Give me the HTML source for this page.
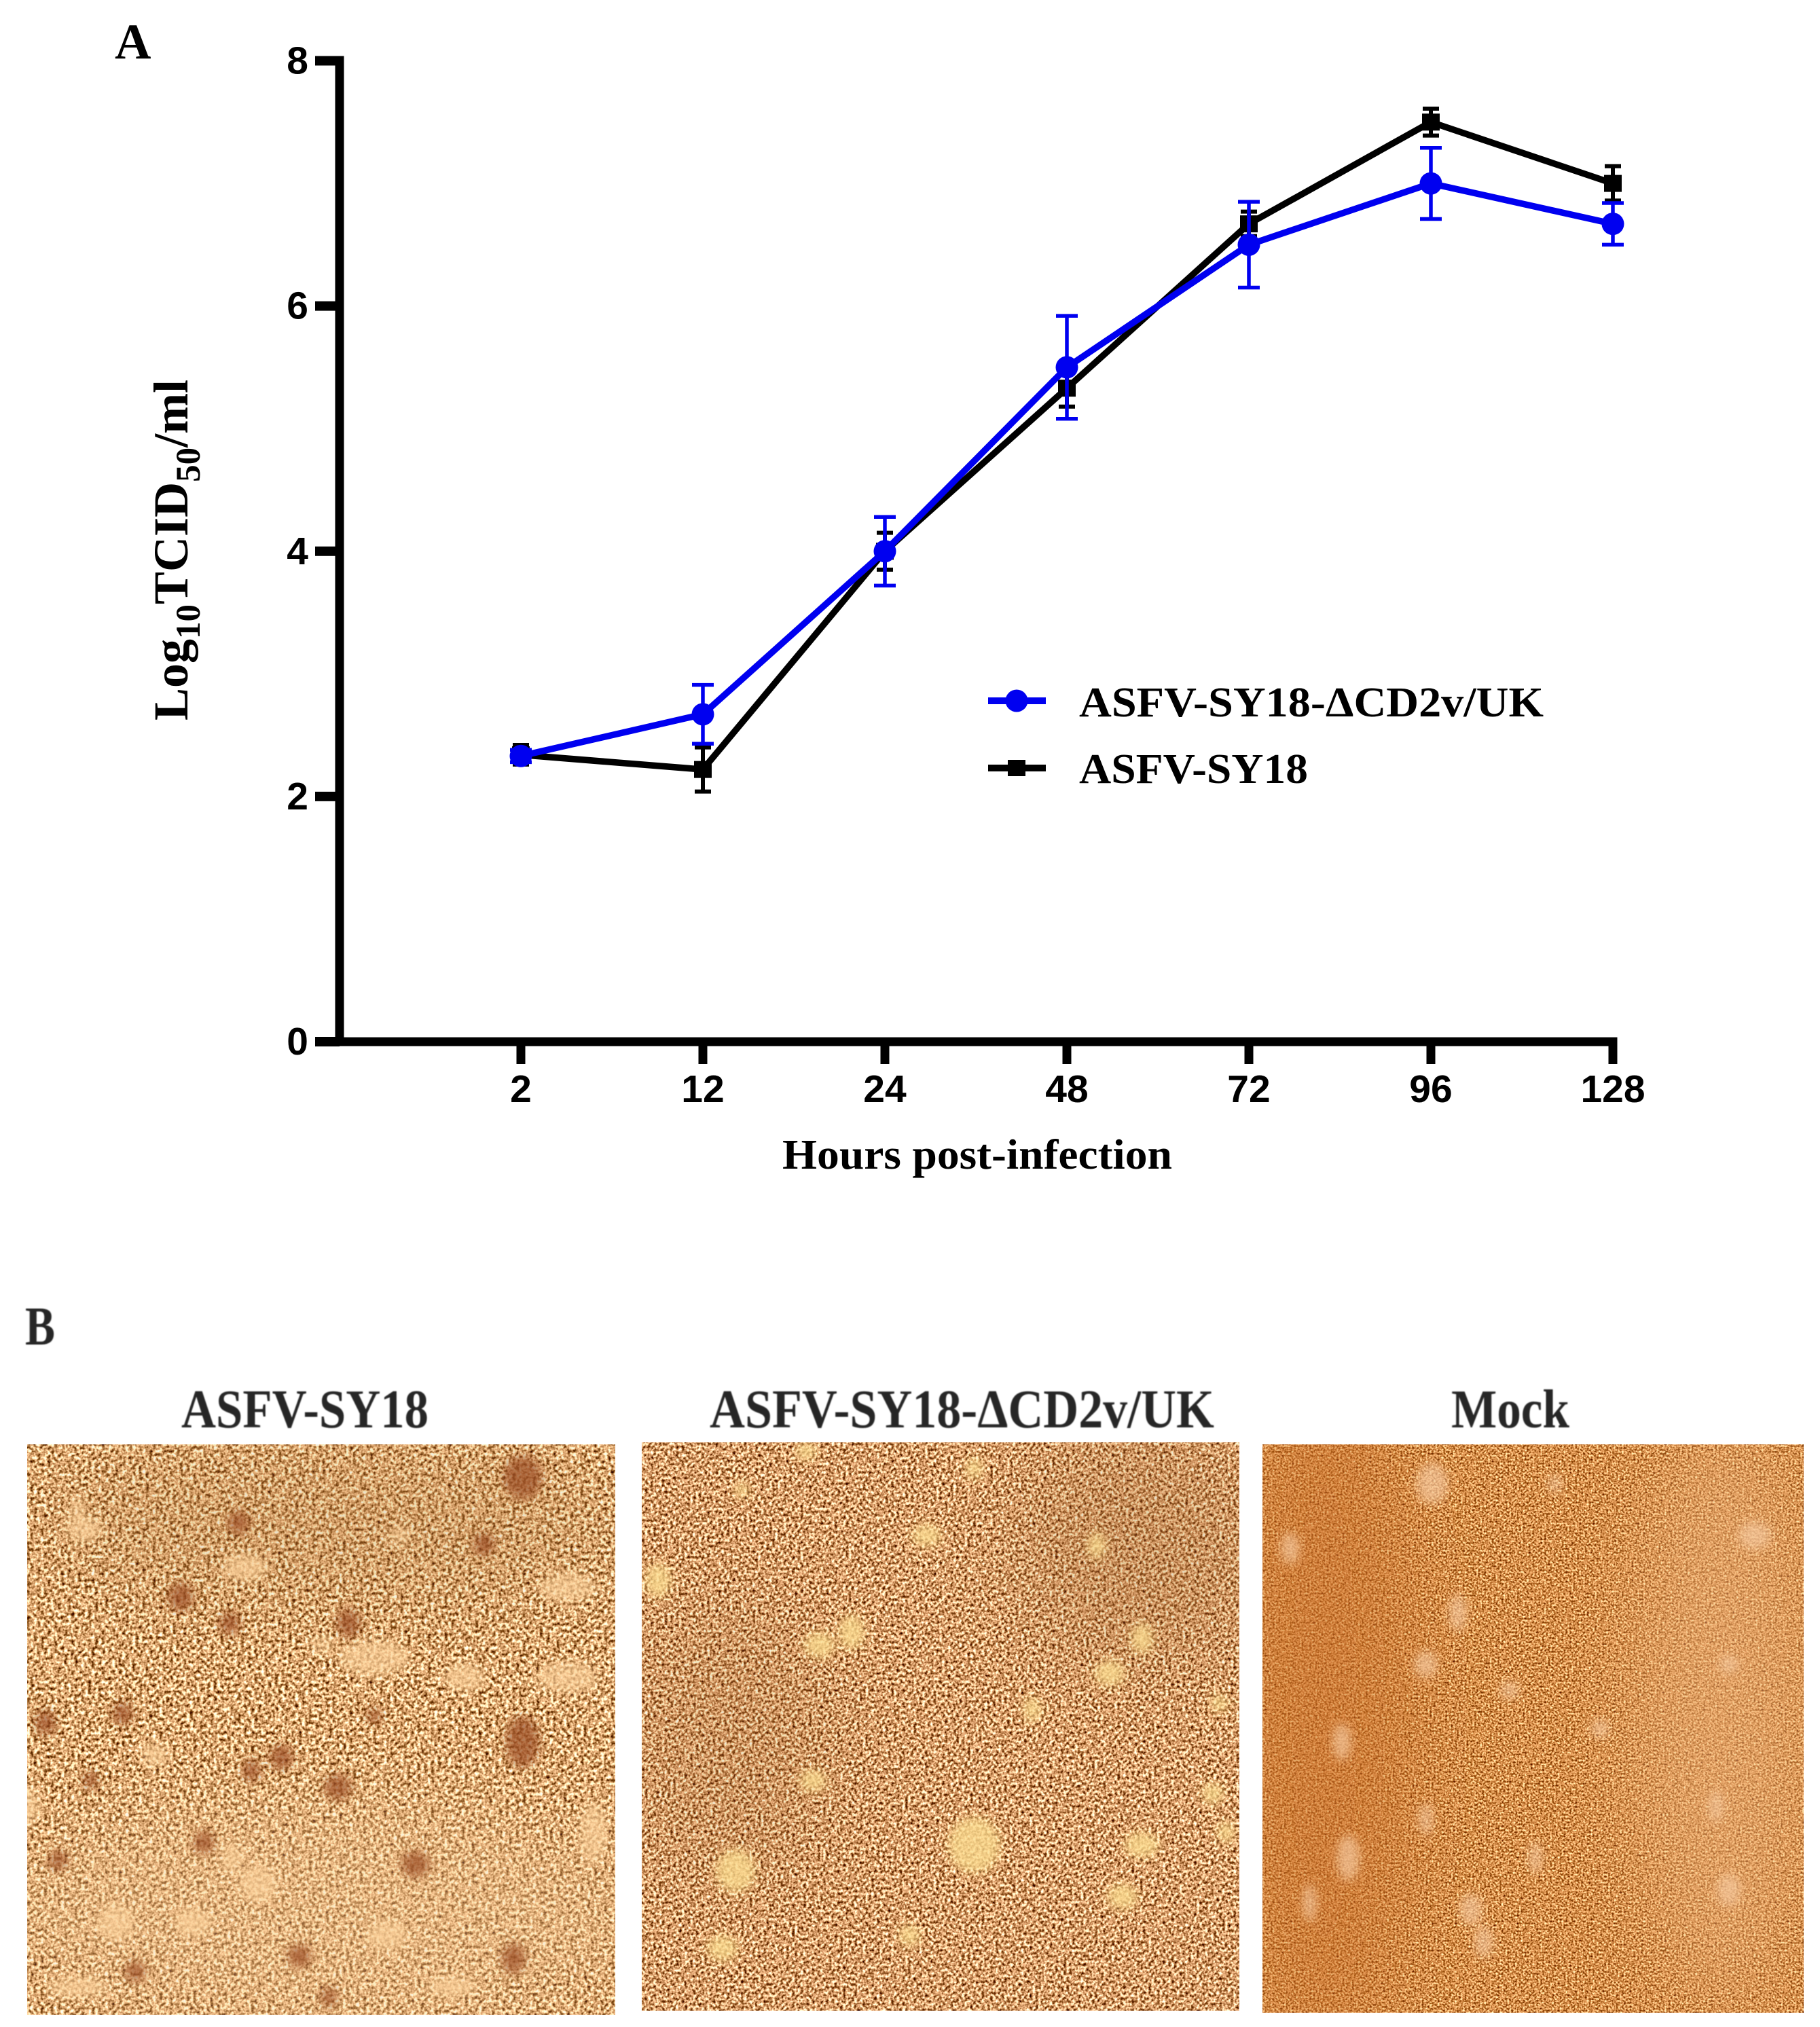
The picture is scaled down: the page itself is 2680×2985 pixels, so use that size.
<!DOCTYPE html>
<html lang="en">
<head>
<meta charset="utf-8">
<title>ASFV growth curve and micrographs</title>
<style>
html,body{margin:0;padding:0;background:#fff;}
svg{display:block;}
text{font-family:"Liberation Serif","Noto Serif CJK SC",serif;font-weight:bold;fill:#000;}
.num{font-family:"Liberation Sans",sans-serif;font-size:57px;}
.cap{fill:#272727;font-size:80px;filter:url(#soft);}
</style>
</head>
<body>
<svg id="fig" width="2680" height="2985" viewBox="0 0 2680 2985" xmlns="http://www.w3.org/2000/svg">
<defs>
<filter id="soft" x="-5%" y="-5%" width="110%" height="110%"><feGaussianBlur stdDeviation="0.7"/></filter>
<filter id="blur-s" x="-80%" y="-80%" width="260%" height="260%"><feGaussianBlur stdDeviation="7"/></filter>
<filter id="blur-l" x="-100%" y="-100%" width="300%" height="300%"><feGaussianBlur stdDeviation="60"/></filter>
<filter id="grain-a" x="0" y="0" width="100%" height="100%" color-interpolation-filters="sRGB">
<feTurbulence type="fractalNoise" baseFrequency="0.2" numOctaves="2" seed="4"/>
<feColorMatrix type="matrix" values="1.9 0 0 0 -0.08  1.9 0 0 0 -0.29  1.9 0 0 0 -0.50  0 0 0 0 1"/>
</filter>
<filter id="grain-b" x="0" y="0" width="100%" height="100%" color-interpolation-filters="sRGB">
<feTurbulence type="fractalNoise" baseFrequency="0.24" numOctaves="2" seed="9"/>
<feColorMatrix type="matrix" values="1.9 0 0 0 -0.10  1.9 0 0 0 -0.33  1.9 0 0 0 -0.53  0 0 0 0 1"/>
</filter>
<filter id="grain-c" x="0" y="0" width="100%" height="100%" color-interpolation-filters="sRGB">
<feTurbulence type="fractalNoise" baseFrequency="0.35" numOctaves="2" seed="15"/>
<feColorMatrix type="matrix" values="1.5 0 0 0 0.09  1.5 0 0 0 -0.19  1.5 0 0 0 -0.45  0 0 0 0 1"/>
</filter>
<clipPath id="clip-1"><rect x="40" y="2127" width="866" height="840"/></clipPath>
<clipPath id="clip-2"><rect x="945" y="2124" width="880" height="837"/></clipPath>
<clipPath id="clip-3"><rect x="1859" y="2127" width="797" height="837"/></clipPath>
</defs>

<rect x="0" y="0" width="2680" height="2985" fill="#fff"/>

<text x="169" y="86" font-size="74">A</text>
<g id="chart"></g>

<text transform="translate(276 1061) rotate(-90)" font-size="72">Log<tspan font-size="51" dy="18">10</tspan><tspan dy="-18">TCID</tspan><tspan font-size="51" dy="18">50</tspan><tspan dy="-18">/ml</tspan></text>
<text x="1152" y="1721" font-size="62" textLength="574" lengthAdjust="spacingAndGlyphs">Hours post-infection</text>

<g>
<g>
<line x1="1455" y1="1032" x2="1540" y2="1032" stroke="#0000f0" stroke-width="10"/>
<circle cx="1497" cy="1032" r="16.5" fill="#0000f0"/>
<text x="1589" y="1055" font-size="62" textLength="684" lengthAdjust="spacingAndGlyphs">ASFV-SY18-ΔCD2v/UK</text>
</g>
<g>
<line x1="1455" y1="1131" x2="1540" y2="1131" stroke="#000" stroke-width="10"/>
<rect x="1484" y="1119" width="26" height="24" fill="#000"/>
<text x="1589" y="1153" font-size="62" textLength="337" lengthAdjust="spacingAndGlyphs">ASFV-SY18</text>
</g>
</g>

<text class="cap" x="37" y="1980" textLength="44" lengthAdjust="spacingAndGlyphs">B</text>
<text class="cap" x="267" y="2102" textLength="364" lengthAdjust="spacingAndGlyphs">ASFV-SY18</text>
<text class="cap" x="1045" y="2102" textLength="743" lengthAdjust="spacingAndGlyphs">ASFV-SY18-ΔCD2v/UK</text>
<text class="cap" x="2137" y="2102" textLength="174" lengthAdjust="spacingAndGlyphs">Mock</text>

<g clip-path="url(#clip-1)">
<rect x="40" y="2127" width="866" height="840" fill="#d9a66c" filter="url(#grain-a)"/>
<ellipse cx="470" cy="2820" rx="480" ry="170" fill="#f2c895" opacity="0.4" filter="url(#blur-l)"/>
<ellipse cx="500" cy="2240" rx="420" ry="110" fill="#b98550" opacity="0.3" filter="url(#blur-l)"/>
<g id="p1"></g>
</g>
<g clip-path="url(#clip-2)">
<rect x="945" y="2124" width="880" height="837" fill="#cfa264" filter="url(#grain-b)"/>
<ellipse cx="1680" cy="2280" rx="170" ry="170" fill="#a8703e" opacity="0.3" filter="url(#blur-l)"/>
<ellipse cx="1080" cy="2560" rx="140" ry="200" fill="#a8703e" opacity="0.2" filter="url(#blur-l)"/>
<g id="p2"></g>
</g>
<g clip-path="url(#clip-3)">
<rect x="1859" y="2127" width="797" height="837" fill="#d98f50" filter="url(#grain-c)"/>
<ellipse cx="1950" cy="2520" rx="130" ry="520" fill="#c96f2c" opacity="0.55" filter="url(#blur-l)"/>
<ellipse cx="2540" cy="2520" rx="130" ry="440" fill="#eab07a" opacity="0.5" filter="url(#blur-l)"/>
<g id="p3"></g>
</g>
</svg>

<script>
// Chart data
const categories = ["2", "12", "24", "48", "72", "96", "128"];
const yTickValues = [0, 2, 4, 6, 8];
const deltaValues = [2.33, 2.67, 4.0, 5.5, 6.5, 7.0, 6.67];
const deltaErrors = [0.05, 0.24, 0.28, 0.42, 0.35, 0.29, 0.17];
const parentValues = [2.34, 2.22, 4.0, 5.33, 6.67, 7.5, 7.0];
const parentErrors = [0.08, 0.18, 0.15, 0.15, 0.1, 0.11, 0.14];

// Micrograph decoration, in 1/1.9 figure units: x, y, rx, ry
const plaques1 = [[405,1145,15,17],[185,1180,8,9],[375,1197,8,9],[140,1238,10,11],[178,1258,8,9],[270,1258,9,11],[95,1328,8,9],[35,1335,8,10],[218,1362,9,10],[405,1350,13,20],[195,1372,7,9],[262,1385,11,10],[158,1428,8,9],[322,1445,11,10],[45,1442,7,8],[232,1516,9,9],[398,1518,9,12],[105,1528,8,8],[255,1548,6,8],[290,1330,6,6],[70,1380,6,7]];
const lights1 = [[65,1185,18,13],[60,1170,8,10],[190,1215,22,14],[290,1285,35,18],[250,1275,12,8],[360,1300,20,14],[440,1230,28,14],[440,1300,30,16],[90,1490,18,18],[20,1400,14,18],[150,1490,18,14],[200,1460,18,18],[300,1500,20,14],[460,1420,14,30],[60,1540,30,10],[350,1540,24,10],[180,1440,10,14],[120,1360,14,12],[310,1190,10,8]];
const lights2 = [[718,1190,14,10],[755,1138,8,10],[850,1198,8,12],[635,1275,14,12],[660,1265,12,16],[885,1270,10,14],[860,1297,14,12],[800,1325,8,12],[570,1450,18,20],[755,1430,24,26],[630,1380,12,10],[560,1510,14,12],[705,1500,10,10],[510,1225,12,16],[885,1430,16,12],[940,1390,10,10],[575,1155,7,7],[625,1125,10,8],[945,1320,8,8],[870,1470,14,12],[950,1420,8,10]];
const lights3 = [[1110,1150,14,18],[1360,1190,14,12],[1105,1290,10,12],[1040,1350,8,16],[1170,1310,8,8],[1045,1440,10,20],[1140,1480,10,14],[1150,1505,8,14],[1015,1475,6,16],[1190,1440,6,14],[1330,1400,6,14],[1130,1250,8,16],[1340,1465,10,14],[1205,1150,6,8],[1000,1200,8,14],[1240,1340,8,8],[1105,1410,6,14],[1340,1290,8,8]];

const SVG_NS = "http://www.w3.org/2000/svg";
const chart = document.getElementById("chart");
const X0 = 767, X_STEP = 268, Y0 = 1534, Y_UNIT = 180.56;
function xScale(i) { return X0 + X_STEP * i; }
function yScale(v) { return Y0 - Y_UNIT * v; }
function make(tag, attrs, parent) {
  const n = document.createElementNS(SVG_NS, tag);
  for (const k in attrs) n.setAttribute(k, attrs[k]);
  parent.appendChild(n);
  return n;
}

// Axes
const yAxis = make("line", {x1: 500, y1: yScale(8) - 7, x2: 500, y2: yScale(0) + 6.5, stroke: "#000", "stroke-width": 13}, chart);


const xAxis = make("line", {x1: 464, y1: yScale(0), x2: xScale(categories.length - 1) + 6.5, y2: yScale(0), stroke: "#000", "stroke-width": 13}, chart);



yTickValues.forEach(function (v) {
  const t = make("line", {x1: 464, y1: yScale(v), x2: 500, y2: yScale(v), stroke: "#000", "stroke-width": 14}, chart);
  
  
  const l = make("text", {x: 454, y: yScale(v) + 19, "text-anchor": "end", class: "num"}, chart);
  
  
  l.textContent = String(v);
});
categories.forEach(function (c, i) {
  const t = make("line", {x1: xScale(i), y1: yScale(0), x2: xScale(i), y2: 1567, stroke: "#000", "stroke-width": 13}, chart);
  
  
  const l = make("text", {x: xScale(i), y: 1623, "text-anchor": "middle", class: "num"}, chart);
  
  
  l.textContent = c;
});

function drawSeries(name, values, errors, color, lineW, errW, capHalf, square) {
  const g = make("g", {}, chart);
  
  
  values.forEach(function (v, i) {
    const x = xScale(i);
    const e = errors[i];
    const b = make("path", {
      d: "M" + (x - capHalf) + " " + yScale(v + e) + "H" + (x + capHalf) +
         "M" + x + " " + yScale(v + e) + "V" + yScale(v - e) +
         "M" + (x - capHalf) + " " + yScale(v - e) + "H" + (x + capHalf),
      stroke: color, "stroke-width": errW, fill: "none"
    }, g);
    
    
  });
  const line = make("polyline", {
    points: values.map(function (v, i) { return xScale(i) + "," + yScale(v); }).join(" "),
    fill: "none", stroke: color, "stroke-width": lineW, "stroke-linejoin": "miter"
  }, g);
  
  
  values.forEach(function (v, i) {
    let m;
    if (square) {
      m = make("rect", {x: xScale(i) - 13, y: yScale(v) - 12.5, width: 26, height: 25, fill: color}, g);
    } else {
      m = make("circle", {cx: xScale(i), cy: yScale(v), r: 16.5, fill: color}, g);
    }
    
    
  });
}
drawSeries("parent", parentValues, parentErrors, "#000", 9.5, 6, 12, true);
drawSeries("delta", deltaValues, deltaErrors, "#0000f0", 9.5, 5.5, 16, false);

// Micrograph spots
function spots(id, list, color, opacity, size, name) {
  const host = document.getElementById(id);
  list.forEach(function (s) {
    const el = make("ellipse", {cx: s[0] * 1.9, cy: s[1] * 1.9, rx: s[2] * size, ry: s[3] * size, fill: color, opacity: opacity, filter: "url(#blur-s)"}, host);
    
    
  });
}
spots("p1", lights1, "#fbd09a", 0.7, 1.5, "cell-gap");
spots("p1", plaques1, "#9c4f25", 0.75, 1.9, "plaque");
spots("p2", lights2, "#fbdb90", 0.8, 1.6, "cell-gap");
spots("p3", lights3, "#f4c79c", 0.7, 1.7, "cell-gap");
</script>
</body>
</html>
